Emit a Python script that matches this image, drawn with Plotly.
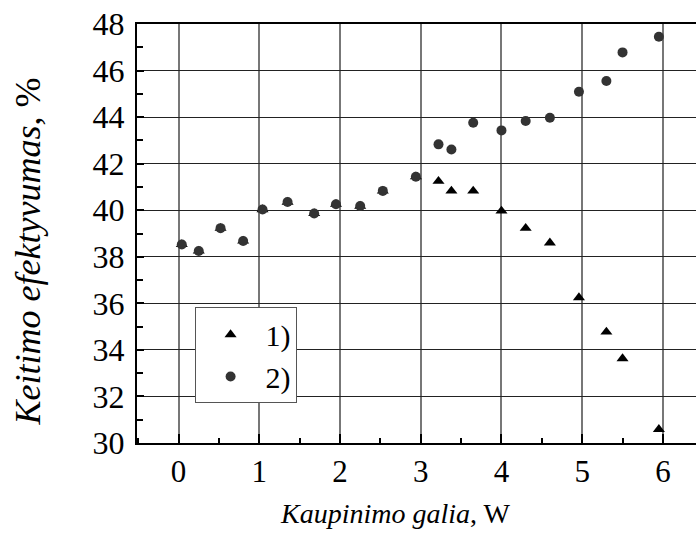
import plotly.graph_objects as go

# Series 1) - triangles
x1 = [0.04, 0.25, 0.52, 0.80, 1.04, 1.35, 1.68, 1.95, 2.25, 2.53, 2.94,
      3.22, 3.38, 3.65, 4.00, 4.30, 4.60, 4.96, 5.30, 5.50, 5.95]
y1 = [38.53, 38.25, 39.23, 38.68, 40.03, 40.35, 39.86, 40.26, 40.18, 40.83, 41.44,
      41.25, 40.83, 40.83, 39.97, 39.23, 38.60, 36.25, 34.77, 33.63, 30.59]

# Series 2) - circles
x2 = [0.04, 0.25, 0.52, 0.80, 1.04, 1.35, 1.68, 1.95, 2.25, 2.53, 2.94,
      3.22, 3.38, 3.65, 4.00, 4.30, 4.60, 4.96, 5.30, 5.50, 5.95]
y2 = [38.53, 38.25, 39.23, 38.68, 40.03, 40.35, 39.86, 40.26, 40.18, 40.83, 41.44,
      42.83, 42.61, 43.76, 43.43, 43.83, 43.97, 45.09, 45.55, 46.78, 47.45]

legend_names = ["1)", "2)"]
xticks = [0, 1, 2, 3, 4, 5, 6]
yticks = [30, 32, 34, 36, 38, 40, 42, 44, 46, 48]

FONT = "Liberation Serif"

fig = go.Figure()
fig.add_trace(go.Scatter(x=x1, y=y1, mode="markers", name=legend_names[0],
                         marker=dict(symbol="triangle-up", size=10.5, color="#000000")))
fig.add_trace(go.Scatter(x=x2, y=y2, mode="markers", name=legend_names[1],
                         marker=dict(symbol="circle", size=10, color="#333333")))

fig.update_layout(
    width=696, height=541,
    margin=dict(l=137, r=0, t=24, b=98),
    paper_bgcolor="white", plot_bgcolor="white",
    font=dict(family=FONT, size=31, color="black"),
    showlegend=True,
    legend=dict(x=0.103, y=0.3234, xanchor="left", yanchor="top",
                bgcolor="white", bordercolor="#555555", borderwidth=1,
                font=dict(family=FONT, size=30), tracegroupgap=0,
                itemwidth=60),
    xaxis=dict(range=[-0.515, 6.41], tickvals=xticks, ticks="inside", ticklen=9,
               tickwidth=1.5, tickcolor="black",
               showline=True, linecolor="black", linewidth=2, mirror=True,
               showgrid=True, gridcolor="#777777", gridwidth=1.5, zeroline=False,
               minor=dict(dtick=0.5, ticks="inside", ticklen=5, tickwidth=1.5,
                          tickcolor="black", showgrid=False),
               tickfont=dict(family=FONT, size=31)),
    yaxis=dict(range=[30, 48], tickvals=yticks, ticks="inside", ticklen=7,
               tickwidth=1.5, tickcolor="black", ticklabelstandoff=4,
               showline=True, linecolor="black", linewidth=2,
               showgrid=True, gridcolor="#222222", gridwidth=1, zeroline=False,
               minor=dict(dtick=1, ticks="inside", ticklen=6, tickwidth=1.5,
                          tickcolor="black", showgrid=False),
               tickfont=dict(family=FONT, size=32)),
    annotations=[
        dict(text="<i>Keitimo efektyvumas</i>, %", xref="paper", yref="paper",
             x=-0.195, y=0.457, xanchor="center", yanchor="middle", textangle=-90,
             showarrow=False, font=dict(family=FONT, size=36)),
        dict(text="<i>Kaupinimo galia</i>, W", xref="paper", yref="paper",
             x=0.463, y=-0.168, xanchor="center", yanchor="middle",
             showarrow=False, font=dict(family=FONT, size=28)),
    ],
)

fig.write_html("out.html")
